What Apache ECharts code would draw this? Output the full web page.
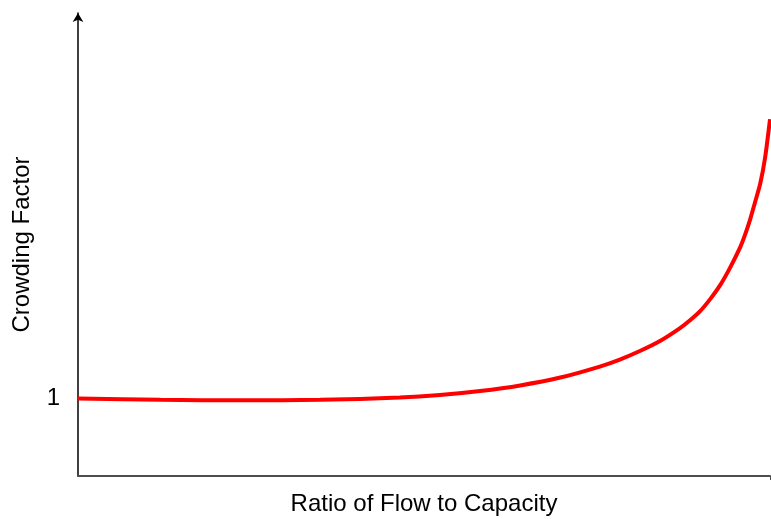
<!DOCTYPE html>
<html>
<head>
<meta charset="utf-8">
<script src="https://cdn.jsdelivr.net/npm/echarts@6/dist/echarts.min.js"></script>
<style>html,body{margin:0;padding:0;background:#fff}#c{width:771px;height:519px}</style>
</head>
<body>
<div id="c"></div>
<script>
// Ratio of flow to capacity (0..1)
var ratio = [0.000, 0.119, 0.241, 0.350, 0.465, 0.523, 0.581, 0.639, 0.697, 0.754, 0.783, 0.812, 0.841, 0.870, 0.884, 0.899, 0.913, 0.928, 0.942, 0.957, 0.964, 0.971, 0.978, 0.986, 0.993, 1.000];
// Crowding factor values
var crowding = [0.994, 0.978, 0.971, 0.977, 1.006, 1.038, 1.090, 1.162, 1.263, 1.404, 1.494, 1.603, 1.731, 1.897, 1.994, 2.115, 2.263, 2.449, 2.667, 2.936, 3.096, 3.282, 3.500, 3.756, 4.090, 4.577];
var yTickLabels = ['1'];

var points = ratio.map(function (x, i) { return [x, crowding[i]]; });

var chart = echarts.init(document.getElementById('c'));
chart.setOption({
  animation: false,
  grid: { left: 78, right: 1, top: 13, bottom: 43, containLabel: false, outerBoundsMode: 'none' },
  xAxis: {
    type: 'value', min: 0, max: 1, interval: 1,
    name: 'Ratio of Flow to Capacity', nameLocation: 'middle', nameGap: 16,
    nameTextStyle: { fontFamily: 'Liberation Sans', fontSize: 24, color: '#000' },
    axisLine: { show: true, lineStyle: { color: '#4d4d4d', width: 2 } },
    axisTick: { show: true, length: 4, customValues: [1], lineStyle: { color: '#4d4d4d' } },
    axisLabel: { show: false },
    splitLine: { show: false }
  },
  yAxis: {
    type: 'value', min: 0, max: 5.94, interval: 1,
    name: 'Crowding Factor', nameLocation: 'middle', nameGap: 44, nameRotate: 90,
    nameTextStyle: { fontFamily: 'Liberation Sans', fontSize: 24, color: '#000' },
    axisLine: { show: true, symbol: ['none', 'arrow'], symbolSize: [8, 9], lineStyle: { color: '#000', width: 1.5 } },
    axisTick: { show: false },
    axisLabel: {
      show: true, margin: 18, fontFamily: 'Liberation Sans', fontSize: 24, color: '#000',
      formatter: function (v) { return yTickLabels.indexOf(String(v)) >= 0 ? String(v) : ''; }
    },
    splitLine: { show: false }
  },
  series: [{
    type: 'line', data: points, smooth: 0.25, showSymbol: false,
    lineStyle: { color: '#ff0000', width: 4 }
  }]
});
</script>
</body>
</html>
